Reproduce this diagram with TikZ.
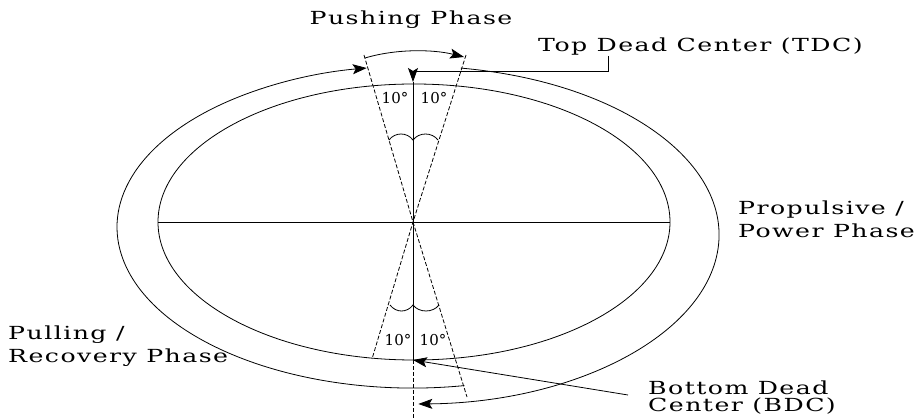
\documentclass[tikz,border=0pt]{standalone}
\usepackage{fontspec}
\setmainfont{DejaVu Serif}[FakeStretch=1.4,LetterSpace=8]
\newfontfamily\degfont{DejaVu Serif}
\usetikzlibrary{arrows.meta}

\begin{document}
\begin{tikzpicture}[
    x=1pt, y=-1pt,
    >={Stealth[length=14pt,width=10pt,inset=3pt]},
    every node/.style={font=\fontsize{18}{23}\selectfont, inner sep=0pt},
    deg/.style={font=\degfont\fontsize{15}{17}\selectfont},
    guide/.style={line width=0.8pt, dash pattern=on 4pt off 2pt},
    curve/.style={line width=0.8pt}
]
\useasboundingbox (0,0) rectangle (921,419);

% centre of the crank circle
\def\cx{413}
\def\cy{222}

\coordinate (o)   at (\cx,\cy);
\coordinate (tdc) at (\cx,82);
\coordinate (bdc) at (\cx,360);

% wedge ends (+/- 10 deg around TDC and BDC)
\coordinate (tl) at (364,55);
\coordinate (tr) at (466,55);
\coordinate (bl) at (372,359);
\coordinate (br) at (467,397);

% labels
\node (push) at (411,20) {Pushing Phase};
\node[anchor=west] (tdclbl) at (538,47) {Top Dead Center (TDC)};
\node[anchor=west, align=left] (power) at (738,219) {Propulsive /\\Power Phase};
\node[anchor=west, align=left] (pull) at (8,346) {Pulling /\\Recovery Phase};
\node[anchor=north west, align=left, font=\fontsize{18}{17}\selectfont] (bdclbl) at (648,381) {Bottom Dead\\Center (BDC)};

\node[deg] (degtl) at (395,98)  {10°};
\node[deg] (degtr) at (434,98)  {10°};
\node[deg] (degbl) at (398,340) {10°};
\node[deg] (degbr) at (433,340) {10°};

% crank circle and axes
\draw[curve] (414,\cy) ellipse [x radius=256, y radius=138];
\draw[curve] (158,\cy) -- (670,\cy);
\draw[curve] (tdc) -- (bdc);
\draw[guide] (bdc) -- (\cx,419);

% wedges
\draw[guide] (tl) -- (o) -- (br);
\draw[guide] (tr) -- (o) -- (bl);

% angle marks
\draw[curve] (389,140) .. controls (395,132) and (407,132) .. (413,140)
                       .. controls (419,132) and (432,132) .. (438,140);
\draw[curve] (390,305) .. controls (396,313) and (407,313) .. (413,305)
                       .. controls (419,313) and (433,313) .. (439,305);

% phase arrows
\draw[curve,->] (365,58) .. controls (395,49) and (432,49) .. (464,57);
\draw[curve,->] (464.4,385.6) arc[start angle=80, end angle=261, x radius=296, y radius=161];
\draw[curve,->] (460.9,68.1) arc[start angle=-81, end angle=89, x radius=306, y radius=169];

% dead centre pointers
\draw[curve,->] ([xshift=70pt]tdclbl.south west) |- (\cx,71) -- (tdc);
\coordinate (bdcfrom) at (628,395);
\draw[curve,->] (bdcfrom) -- (bdc);

\end{tikzpicture}
\end{document}
